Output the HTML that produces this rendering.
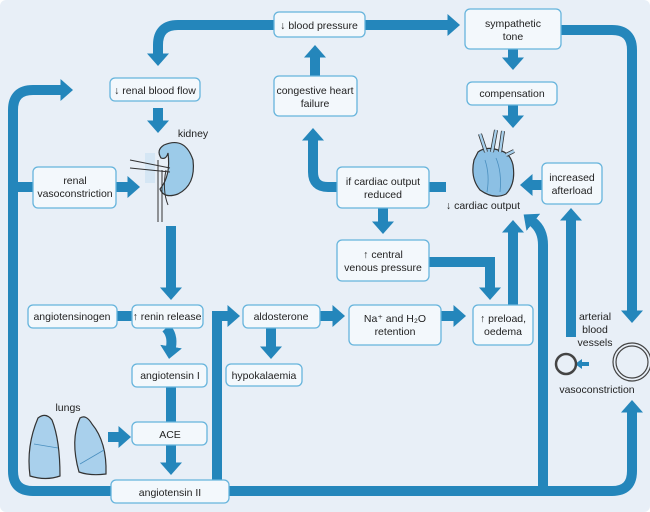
<!DOCTYPE html><html><head><style>body{margin:0;background:#fff}svg{display:block}text{font-family:"Liberation Sans",sans-serif;font-size:10.5px;fill:#222;text-anchor:middle}</style></head><body>
<svg width="650" height="512" viewBox="0 0 650 512">
<rect x="0" y="0" width="650" height="512" rx="6" fill="#e8eff7"/>
<defs><marker id="a" markerWidth="1.3" markerHeight="2.2" refX="0.05" refY="1.1" orient="auto" markerUnits="strokeWidth"><path d="M0,0 L1.25,1.1 L0,2.2z" fill="#2486bb"/></marker></defs>
<g fill="none" stroke="#2486bb" stroke-width="10">
<path d="M274,25 H178 Q158,25 158,45 V54" marker-end="url(#a)"/>
<path d="M365,25 H448" marker-end="url(#a)"/>
<path d="M561,30 H612 Q632,30 632,50 V311" marker-end="url(#a)"/>
<path d="M513,49 V58" marker-end="url(#a)"/>
<path d="M513,105 V116" marker-end="url(#a)"/>
<path d="M315,76 V57" marker-end="url(#a)"/>
<path d="M337,187 H328 Q313,187 313,172 V140" marker-end="url(#a)"/>
<path d="M429,187 H446"/>
<path d="M383,208 V222" marker-end="url(#a)"/>
<path d="M429,262 H490 V288" marker-end="url(#a)"/>
<path d="M513,305 V232" marker-end="url(#a)"/>
<path d="M543,491 V245 Q543,230 533,222" marker-end="url(#a)"/>
<path d="M571,337 V220" marker-end="url(#a)"/>
<path d="M542,185 H532" marker-end="url(#a)"/>
<path d="M158,108 V121" marker-end="url(#a)"/>
<path d="M116,187 H128" marker-end="url(#a)"/>
<path d="M171,226 V288" marker-end="url(#a)"/>
<path d="M111,491 H33 Q13,491 13,471 V110 Q13,90 33,90 H61" marker-end="url(#a)"/>
<path d="M13,187 H33"/>
<path d="M117,316 H132"/>
<path d="M166,328 Q173,335 171,347" marker-end="url(#a)"/>
<path d="M171,387 V422"/>
<path d="M171,445 V463" marker-end="url(#a)"/>
<path d="M108,437 H119" marker-end="url(#a)"/>
<path d="M217,480 V316 H228" marker-end="url(#a)"/>
<path d="M271,328 V347" marker-end="url(#a)"/>
<path d="M320,316 H333" marker-end="url(#a)"/>
<path d="M441,316 H454" marker-end="url(#a)"/>
<path d="M229,491 H612 Q632,491 632,471 V412" marker-end="url(#a)"/>
</g>
<path d="M589,364 H581" stroke="#2486bb" stroke-width="4"/><path d="M582,359 L575,364 L582,369z" fill="#2486bb"/>
<g fill="#f3f8fc" stroke="#66b4dc" stroke-width="1.3">
<rect x="274" y="12" width="91" height="25" rx="5"/>
<rect x="465" y="9" width="96" height="40" rx="5"/>
<rect x="274" y="76" width="83" height="40" rx="5"/>
<rect x="467" y="82" width="90" height="23" rx="5"/>
<rect x="110" y="78" width="90" height="23" rx="5"/>
<rect x="33" y="167" width="83" height="41" rx="5"/>
<rect x="337" y="167" width="92" height="41" rx="5"/>
<rect x="542" y="163" width="60" height="41" rx="5"/>
<rect x="337" y="240" width="92" height="41" rx="5"/>
<rect x="28" y="305" width="89" height="23" rx="5"/>
<rect x="132" y="305" width="71" height="23" rx="5"/>
<rect x="243" y="305" width="77" height="23" rx="5"/>
<rect x="349" y="305" width="92" height="40" rx="5"/>
<rect x="473" y="305" width="60" height="40" rx="5"/>
<rect x="132" y="364" width="75" height="23" rx="5"/>
<rect x="226" y="364" width="76" height="22" rx="5"/>
<rect x="132" y="422" width="75" height="23" rx="5"/>
<rect x="111" y="480" width="118" height="23" rx="5"/>
</g>
<text x="319" y="29">↓ blood pressure</text>
<text x="513" y="27">sympathetic</text><text x="513" y="40">tone</text>
<text x="315" y="94">congestive heart</text><text x="315" y="107">failure</text>
<text x="512" y="97">compensation</text>
<text x="155" y="94">↓ renal blood flow</text>
<text x="75" y="184">renal</text><text x="75" y="197">vasoconstriction</text>
<text x="383" y="185">if cardiac output</text><text x="383" y="198">reduced</text>
<text x="572" y="181">increased</text><text x="572" y="194">afterload</text>
<text x="383" y="258">↑ central</text><text x="383" y="271">venous pressure</text>
<text x="72" y="320">angiotensinogen</text>
<text x="167" y="320">↑ renin release</text>
<text x="281" y="320">aldosterone</text>
<text x="395" y="322">Na⁺ and H₂O</text><text x="395" y="335">retention</text>
<text x="503" y="322">↑ preload,</text><text x="503" y="335">oedema</text>
<text x="170" y="379">angiotensin I</text>
<text x="264" y="379">hypokalaemia</text>
<text x="170" y="438">ACE</text>
<text x="170" y="496">angiotensin II</text>
<text x="193" y="137">kidney</text>
<text x="68" y="411">lungs</text>
<text x="483" y="209">↓ cardiac output</text>
<text x="595" y="320">arterial</text><text x="595" y="333">blood</text><text x="595" y="346">vessels</text>
<text x="597" y="393">vasoconstriction</text>
<!-- kidney -->
<path d="M168,153 Q166,160 161,158 Q156,150 164,145 Q185,136 193,160 Q196,185 178,194 Q164,199 160,189 Q171,176 168,153z" fill="#9ccbe9" stroke="#333" stroke-width="1.2"/>
<rect x="145" y="153" width="10" height="30" fill="#cfe3f2" opacity="0.8"/>
<path d="M130,160 L170,168 M130,168 L170,172 M158,160 V222 M162,170 V222 M166,170 Q162,190 168,205" stroke="#333" stroke-width="1" fill="none"/>
<!-- heart -->
<path d="M474,160 Q470,178 480,190 Q494,200 506,194 Q516,184 513,165 Q510,152 498,150 Q486,146 478,152z" fill="#8cc0e4" stroke="#333" stroke-width="1.2"/>
<path d="M486,152 L480,134 M492,152 L496,130 M500,152 L503,131 M506,155 L514,151" stroke="#333" stroke-width="4" fill="none"/>
<path d="M486,152 L480,134 M492,152 L496,130 M500,152 L503,131 M506,155 L514,151" stroke="#a8d0ec" stroke-width="2.4" fill="none"/>
<path d="M485,160 Q490,175 487,192 M496,158 Q502,172 500,192" stroke="#4a8fbf" stroke-width="0.8" fill="none"/>
<!-- lungs -->
<path d="M38,418 Q46,412 52,420 Q60,440 60,476 Q46,481 30,476 Q26,446 38,418z" fill="#a9d0ec" stroke="#333" stroke-width="1.2"/>
<path d="M80,418 Q86,414 92,424 Q107,442 106,474 Q90,476 79,472 Q70,440 80,418z" fill="#a9d0ec" stroke="#333" stroke-width="1.2"/>
<path d="M34,444 L58,448 M80,464 L104,450" stroke="#4a8fbf" stroke-width="0.8" fill="none"/>
<!-- vessels -->
<circle cx="566" cy="364" r="10" fill="none" stroke="#444" stroke-width="2.5"/>
<circle cx="632" cy="362" r="19" fill="none" stroke="#444" stroke-width="1.2"/>
<circle cx="632" cy="362" r="16" fill="none" stroke="#444" stroke-width="1.2"/>
</svg></body></html>
